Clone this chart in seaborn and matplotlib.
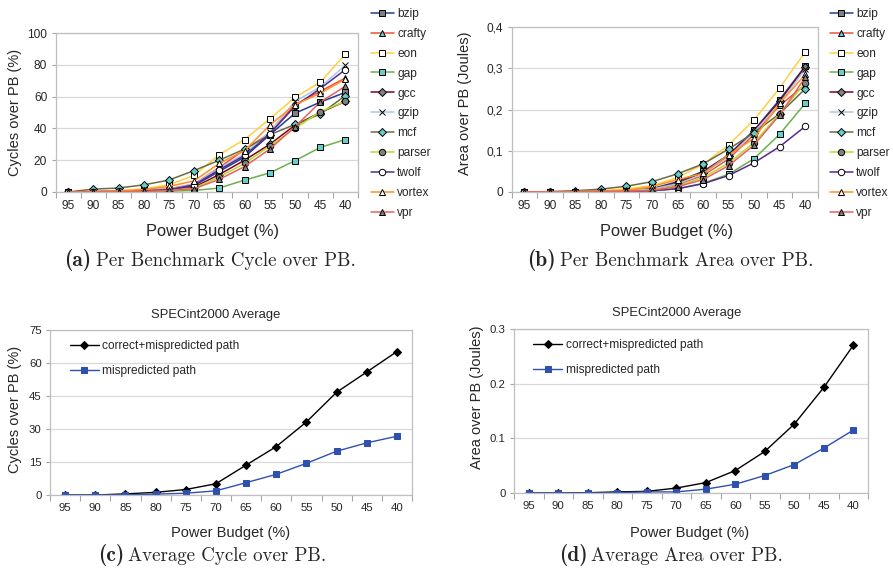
import numpy as np
import pandas as pd
import matplotlib
matplotlib.use("Agg")
import matplotlib.pyplot as plt
import seaborn as sns
from matplotlib.ticker import FixedLocator, FuncFormatter

sns.set_theme(style="white")
plt.rcParams['font.family'] = ['Liberation Sans', 'DejaVu Sans']
plt.rcParams['mathtext.fontset'] = 'cm'

budgets = ["95", "90", "85", "80", "75", "70", "65", "60", "55", "50", "45", "40"]
benchmarks = ["bzip", "crafty", "eon", "gap", "gcc", "gzip", "mcf", "parser", "twolf", "vortex", "vpr"]

# (a) cycles over PB (%)
bzip = [0, 0.2, 0.4, 0.8, 1.5, 4, 13, 22, 36, 49.5, 56.5, 62.7]
crafty = [0, 0.2, 0.5, 1, 2, 5, 15.5, 26.5, 37, 55, 63.3, 71.7]
eon = [0, 0.3, 0.8, 2, 4.5, 10.5, 23.5, 33, 46, 59.5, 69, 86.8]
gap = [0, 0, 0.1, 0.2, 0.5, 1, 2.5, 7.5, 12, 19.7, 28, 33]
gcc = [0, 0.1, 0.3, 0.6, 1.2, 3, 11, 20, 30, 42, 50, 57]
gzip = [0, 0.2, 0.5, 1, 1.8, 5, 15, 24, 38, 57, 66, 79.7]
mcf = [0, 1.8, 2.5, 4.5, 7.5, 13.5, 20, 27, 36, 42.5, 49, 60.6]
parser = [0, 0.1, 0.3, 0.5, 1, 2.5, 9.5, 18, 29, 40, 50.5, 57]
twolf = [0, 0.2, 0.4, 0.8, 1.5, 4.5, 14, 23, 36.5, 54, 65, 77]
vortex = [0, 0.3, 0.6, 1.5, 3.5, 7, 18, 26, 42, 55, 62, 71]
vpr = [0, 0.1, 0.2, 0.4, 1, 2, 8, 16, 27, 41, 56.5, 66.5]

# (b) area over PB (Joules)
bzip_a = [0, 0, 0.001, 0.002, 0.003, 0.008, 0.025, 0.05, 0.09, 0.15, 0.224, 0.305]
crafty_a = [0, 0, 0.001, 0.002, 0.003, 0.007, 0.018, 0.04, 0.08, 0.14, 0.21, 0.26]
eon_a = [0, 0, 0.001, 0.003, 0.008, 0.015, 0.035, 0.067, 0.114, 0.175, 0.252, 0.34]
gap_a = [0, 0, 0, 0.001, 0.001, 0.003, 0.008, 0.021, 0.043, 0.081, 0.14, 0.215]
gcc_a = [0, 0, 0.001, 0.002, 0.003, 0.007, 0.022, 0.047, 0.088, 0.148, 0.22, 0.303]
gzip_a = [0, 0, 0.001, 0.002, 0.003, 0.007, 0.02, 0.043, 0.085, 0.145, 0.215, 0.298]
mcf_a = [0, 0.001, 0.003, 0.007, 0.014, 0.025, 0.044, 0.068, 0.104, 0.144, 0.19, 0.25]
parser_a = [0, 0, 0.001, 0.001, 0.002, 0.005, 0.015, 0.035, 0.07, 0.12, 0.19, 0.265]
twolf_a = [0, 0, 0, 0.001, 0.001, 0.003, 0.008, 0.02, 0.04, 0.071, 0.11, 0.159]
vortex_a = [0, 0, 0.001, 0.002, 0.004, 0.013, 0.03, 0.045, 0.09, 0.13, 0.215, 0.285]
vpr_a = [0, 0, 0, 0.001, 0.002, 0.004, 0.013, 0.03, 0.064, 0.114, 0.187, 0.278]

# (c), (d) SPECint2000 averages
cyc_total = [0, 0, 0.5, 1.2, 2.5, 5.1, 13.6, 22, 33.2, 46.7, 55.9, 65.2]
cyc_mis = [0, 0, 0.1, 0.4, 0.8, 1.9, 5.6, 9.4, 14.4, 19.9, 23.7, 26.7]
area_total = [0, 0, 0.0005, 0.002, 0.003, 0.009, 0.019, 0.041, 0.076, 0.126, 0.193, 0.27]
area_mis = [0, 0, 0, 0.0005, 0.002, 0.002, 0.007, 0.016, 0.032, 0.052, 0.082, 0.115]

cyc_series = [bzip, crafty, eon, gap, gcc, gzip, mcf, parser, twolf, vortex, vpr]
area_series = [bzip_a, crafty_a, eon_a, gap_a, gcc_a, gzip_a, mcf_a, parser_a, twolf_a, vortex_a, vpr_a]

TEAL = "#66cccc"
GRAY = "#808080"
styles = {
    "bzip":   dict(color="#1f3f8f", marker="s", mfc=GRAY, ms=4.4),
    "crafty": dict(color="#f0503c", marker="^", mfc=TEAL, ms=5.0),
    "eon":    dict(color="#ffd040", marker="s", mfc="white", ms=4.4),
    "gap":    dict(color="#6ab04c", marker="s", mfc=TEAL, ms=4.4),
    "gcc":    dict(color="#800020", marker="D", mfc=GRAY, ms=3.8),
    "gzip":   dict(color="#a8c8e8", marker="x", mfc="black", ms=4.6),
    "mcf":    dict(color="#6b6b45", marker="D", mfc=TEAL, ms=3.8),
    "parser": dict(color="#b8d830", marker="o", mfc=GRAY, ms=4.6),
    "twolf":  dict(color="#5a2a90", marker="o", mfc="white", ms=4.6),
    "vortex": dict(color="#ff9020", marker="^", mfc="white", ms=5.0),
    "vpr":    dict(color="#e86060", marker="^", mfc=GRAY, ms=5.0),
}

W, H = 893, 569
fig = plt.figure(figsize=(W / 100, H / 100), dpi=100)
renderer = fig.canvas.get_renderer()


def add_axes(l, r, t, b):
    return fig.add_axes([l / W, 1 - b / H, (r - l) / W, (b - t) / H])


def px(x, y):
    return x / W, 1 - y / H


def style_axes(ax, ymax, ystep, fmt, fs):
    ax.set_xlim(-0.5, len(budgets) - 0.5)
    ax.set_ylim(0, ymax)
    ax.set_xticks(range(len(budgets)))
    ax.set_xticklabels(budgets, fontsize=fs)
    ax.xaxis.set_minor_locator(FixedLocator(np.arange(-0.5, len(budgets), 1.0)))
    ax.tick_params(axis="x", which="major", length=0, pad=6)
    ax.tick_params(axis="x", which="minor", length=4, width=0.8, color="#a6a6a6", direction="out", bottom=True)
    yt = np.arange(0, ymax + ystep / 2, ystep)
    ax.set_yticks(yt)
    ax.yaxis.set_major_formatter(FuncFormatter(fmt))
    ax.tick_params(axis="y", length=3, width=0.8, color="#a6a6a6", direction="out", left=True, labelsize=fs, pad=3)
    ax.grid(axis="y", color="#d9d9d9", linewidth=0.9)
    ax.set_axisbelow(True)
    for s in ax.spines.values():
        s.set_color("#bfbfbf")
        s.set_linewidth(0.9)
    ax.set_xlabel("")
    ax.set_ylabel("")


def text_width(s, family, fs):
    t = fig.text(0, 0, s, fontfamily=family, fontsize=fs)
    w = t.get_window_extent(renderer).width
    t.remove()
    return w


FB = 15.5   # bold "(a)" label size
FR = 13.6   # caption body size


def caption(label, rest, cx, base_y):
    wb = text_width(label, "cmb10", FB)
    wr = text_width(rest, "cmr10", FR)
    gap = 4
    x0 = cx - (wb + gap + wr) / 2
    fig.text(*px(x0, base_y), label, fontfamily="cmb10", fontsize=FB, ha="left", va="baseline")
    fig.text(*px(x0 + wb + gap, base_y), rest, fontfamily="cmr10", fontsize=FR, ha="left", va="baseline")


xpos = np.arange(len(budgets))


def draw_bench(ax, series):
    for name, vals in zip(benchmarks, series):
        st = styles[name]
        sns.lineplot(x=xpos, y=vals, ax=ax, color=st["color"], marker=st["marker"],
                     markersize=st["ms"], markerfacecolor=st["mfc"], markeredgecolor="black",
                     markeredgewidth=0.7, linewidth=1.1, label=name, legend=False)


fmt_int = lambda v, p: f"{v:.0f}"
fmt_comma = lambda v, p: "0" if v == 0 else f"{v:.1f}".replace(".", ",")
fmt_dot = lambda v, p: "0" if v == 0 else f"{v:.1f}"

# (a)
axA = add_axes(55.5, 358, 33, 192)
draw_bench(axA, cyc_series)
style_axes(axA, 100, 20, fmt_int, 8.6)
hA, lA = axA.get_legend_handles_labels()
fig.legend(hA, lA, loc="upper left", bbox_to_anchor=px(371, 8), frameon=False, fontsize=8.6,
           handlelength=1.9, handletextpad=0.3, labelspacing=0.66, borderpad=0, borderaxespad=0)
fig.text(*px(15, 112), "Cycles over PB (%)", rotation=90, ha="center", va="center", fontsize=10.5)
fig.text(*px(213, 231), "Power Budget (%)", ha="center", va="center", fontsize=11.8)
caption("(a)", "Per Benchmark Cycle over PB.", 210, 266)

# (b)
axB = add_axes(511.5, 818, 27, 192)
draw_bench(axB, area_series)
style_axes(axB, 0.4, 0.1, fmt_comma, 8.6)
hB, lB = axB.get_legend_handles_labels()
fig.legend(hB, lB, loc="upper left", bbox_to_anchor=px(830, 8), frameon=False, fontsize=8.6,
           handlelength=1.9, handletextpad=0.3, labelspacing=0.66, borderpad=0, borderaxespad=0)
fig.text(*px(465, 103), "Area over PB (Joules)", rotation=90, ha="center", va="center", fontsize=10.5)
fig.text(*px(667, 231), "Power Budget (%)", ha="center", va="center", fontsize=11.8)
caption("(b)", "Per Benchmark Area over PB.", 670, 266)


def draw_avg(ax, total, mis):
    sns.lineplot(x=xpos, y=total, ax=ax, color="black", marker="D", markersize=3.8,
                 markerfacecolor="black", markeredgecolor="black", linewidth=1.0,
                 label="correct+mispredicted path", legend=False)
    sns.lineplot(x=xpos, y=mis, ax=ax, color="#3050b0", marker="s", markersize=4.2,
                 markerfacecolor="#3050b0", markeredgecolor="#3050b0", linewidth=1.0,
                 label="mispredicted path", legend=False)
    h, l = ax.get_legend_handles_labels()
    ax.legend(h, l, loc="upper left", bbox_to_anchor=(0.055, 0.94), frameon=False, fontsize=8.6,
              handlelength=2.4, handletextpad=0.3, labelspacing=1.1, borderpad=0, borderaxespad=0)


# (c)
axC = add_axes(50, 412, 330, 495)
draw_avg(axC, cyc_total, cyc_mis)
style_axes(axC, 75, 15, fmt_int, 8.2)
fig.text(*px(216, 315), "SPECint2000 Average", ha="center", va="center", fontsize=9.4)
fig.text(*px(15, 409), "Cycles over PB (%)", rotation=90, ha="center", va="center", fontsize=10.5)
fig.text(*px(231, 533), "Power Budget (%)", ha="center", va="center", fontsize=10.5)
caption("(c)", "Average Cycle over PB.", 212, 561)

# (d)
axD = add_axes(514, 868, 329, 493)
draw_avg(axD, area_total, area_mis)
style_axes(axD, 0.3, 0.1, fmt_dot, 8.2)
fig.text(*px(677, 313), "SPECint2000 Average", ha="center", va="center", fontsize=9.4)
fig.text(*px(477, 397), "Area over PB (Joules)", rotation=90, ha="center", va="center", fontsize=10.5)
fig.text(*px(690, 533), "Power Budget (%)", ha="center", va="center", fontsize=10.5)
caption("(d)", "Average Area over PB.", 671, 561)

fig.savefig("out.png", dpi=100)
